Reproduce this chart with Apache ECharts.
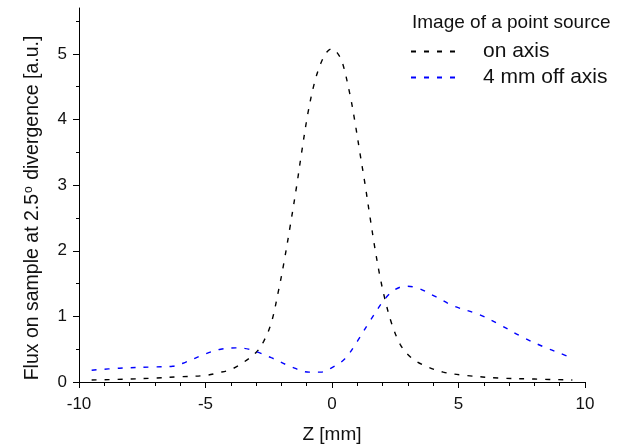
<!DOCTYPE html>
<html>
<head>
<meta charset="utf-8">
<script src="https://cdn.jsdelivr.net/npm/echarts@6/dist/echarts.min.js"></script>
<style>
  html, body { margin: 0; padding: 0; background: #fff; }
  #chart { width: 627px; height: 446px; }
</style>
</head>
<body>
<div id="chart"></div>
<script>
// Z position along the beam [mm] and flux for the point source on axis
const onAxisZ =    [-9.5, -8, -7, -6, -5, -4.5, -4, -3.5, -3, -2.7, -2.4, -2.1, -1.9, -1.66, -1.4, -1.2, -0.95, -0.7, -0.45, -0.2, 0, 0.2, 0.4, 0.7, 0.9, 1.1, 1.3, 1.5, 1.7, 1.9, 2.1, 2.35, 2.7, 3.1, 3.6, 4.4, 5.3, 6.6, 8, 9.5];
const onAxisFlux = [0.03, 0.045, 0.06, 0.08, 0.10, 0.14, 0.19, 0.30, 0.45, 0.62, 0.9, 1.42, 1.82, 2.36, 2.98, 3.5, 4.1, 4.55, 4.85, 5.03, 5.08, 5.02, 4.88, 4.4, 3.98, 3.5, 3.03, 2.52, 2.03, 1.6, 1.25, 0.9, 0.57, 0.38, 0.26, 0.15, 0.10, 0.06, 0.045, 0.03];

// Point source 4 mm off axis
const offAxisZ =    [-9.5, -8.4, -7, -6.3, -5.8, -5, -4.4, -3.8, -3.3, -2.4, -1.6, -0.9, -0.45, 0, 0.5, 1.0, 1.5, 2.1, 2.5, 2.9, 3.4, 4.1, 4.8, 5.8, 6.6, 7.5, 8.4, 9.0, 9.5];
const offAxisFlux = [0.18, 0.21, 0.23, 0.24, 0.30, 0.43, 0.50, 0.52, 0.50, 0.37, 0.23, 0.15, 0.15, 0.22, 0.35, 0.62, 0.93, 1.27, 1.41, 1.46, 1.43, 1.30, 1.16, 1.03, 0.88, 0.69, 0.53, 0.44, 0.36];

const seriesNames = ['on axis', '4 mm off axis'];
const legendTitle = 'Image of a point source';
const xName = 'Z [mm]';
const yTicks = [0, 1, 2, 3, 4, 5];
const yMinorTicks = [0.5, 1.5, 2.5, 3.5, 4.5, 5.5];

const FONT = '"Liberation Sans", Arial, sans-serif';
const TXT = '#111';
const DASH = [5, 8];

const pairs = (xs, ys) => xs.map((x, i) => [x, ys[i]]);

const chart = echarts.init(document.getElementById('chart'), null, { renderer: 'canvas' });

chart.setOption({
  animation: false,
  backgroundColor: '#fff',
  grid: { left: 79, right: 42, top: 8, bottom: 64, containLabel: false, outerBoundsMode: 'none' },
  title: {
    text: legendTitle,
    left: 407, top: 8,
    textStyle: { fontFamily: FONT, fontSize: 19, fontWeight: 'normal', color: TXT }
  },
  legend: {
    data: seriesNames,
    orient: 'vertical',
    left: 405, top: 36,
    itemWidth: 45, itemHeight: 14, itemGap: 5,
    itemStyle: { opacity: 0 },
    textStyle: { fontFamily: FONT, fontSize: 21, color: TXT, padding: [0, 0, 0, 22] }
  },
  xAxis: {
    type: 'value', min: -10, max: 10, interval: 5,
    name: xName, nameLocation: 'middle', nameGap: 43,
    nameTextStyle: { fontFamily: FONT, fontSize: 19, color: TXT },
    axisLine: { onZero: false, lineStyle: { color: '#000', width: 1 } },
    axisTick: { show: true, inside: false, length: 6, lineStyle: { color: '#000' } },
    minorTick: { show: true, splitNumber: 5, length: 4, lineStyle: { color: '#000' } },
    axisLabel: { margin: 14, fontFamily: FONT, fontSize: 17, color: TXT },
    splitLine: { show: false }
  },
  yAxis: [{
    type: 'value', min: 0, max: 5.7,
    axisLine: { show: true, onZero: false, lineStyle: { color: '#000', width: 1 } },
    axisTick: { show: true, length: 6, customValues: yTicks, lineStyle: { color: '#000' } },
    axisLabel: { customValues: yTicks, margin: 12, fontFamily: FONT, fontSize: 17, color: TXT },
    splitLine: { show: false }
  }, {
    type: 'value', min: 0, max: 5.7, position: 'left',
    axisLine: { show: false, onZero: false },
    axisTick: { show: true, length: 3, customValues: yMinorTicks, lineStyle: { color: '#000' } },
    axisLabel: { show: false },
    splitLine: { show: false }
  }],
  graphic: [{
    type: 'text',
    x: 33, y: 208,
    rotation: Math.PI / 2,
    style: {
      text: '{n|Flux on sample at 2.5}{s|o}{n| divergence [a.u.]}',
      align: 'center', verticalAlign: 'middle',
      fill: TXT,
      rich: {
        n: { fontFamily: FONT, fontSize: 19.5, fill: TXT },
        s: { fontFamily: FONT, fontSize: 12, fill: TXT, verticalAlign: 'top', padding: [0, 1, 9, 1] }
      }
    }
  }],
  series: [{
    name: seriesNames[0], type: 'line', data: pairs(onAxisZ, onAxisFlux),
    smooth: 0.35, symbol: 'none', color: '#000',
    lineStyle: { color: '#000', width: 1.4, type: DASH }
  }, {
    name: seriesNames[1], type: 'line', data: pairs(offAxisZ, offAxisFlux),
    smooth: 0.35, symbol: 'none', color: '#0000ff',
    lineStyle: { color: '#0000ff', width: 1.4, type: DASH }
  }]
});
</script>
</body>
</html>
